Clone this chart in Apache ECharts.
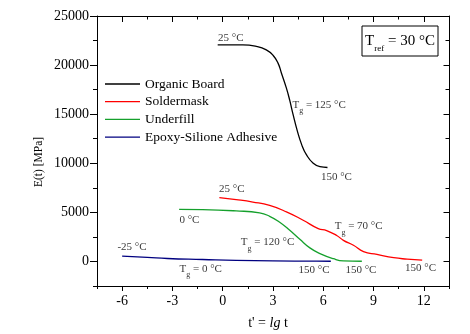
<!DOCTYPE html>
<html>
<head>
<meta charset="utf-8">
<script src="https://cdn.jsdelivr.net/npm/echarts@6/dist/echarts.min.js"></script>
<style>
  html, body { margin: 0; padding: 0; background: #fff; }
  #chart { width: 470px; height: 334px; }
</style>
</head>
<body>
<div id="chart"></div>
<script>
// Relaxation modulus master curves, E(t) vs reduced log time
const seriesNames = ['Organic Board', 'Soldermask', 'Underfill', 'Epoxy-Silione Adhesive'];
const seriesColors = ['#000000', '#ff0000', '#15a02c', '#000080'];

const organicBoard = [[-0.3, 22050], [1.2, 22050], [2.0, 21900], [2.6, 21550], [3.0, 21000], [3.3, 20200],
  [3.5, 19200], [3.8, 17650], [4.0, 16400], [4.2, 14950], [4.45, 13300], [4.7, 11950], [5.0, 10850],
  [5.4, 10000], [5.8, 9650], [6.25, 9570]];
const soldermask = [[-0.2, 6500], [0.8, 6300], [1.8, 6050], [2.8, 5700], [3.8, 5050], [4.8, 4200],
  [5.7, 3350], [6.2, 3150], [6.8, 2650], [7.2, 2150], [7.8, 1650], [8.4, 1000], [9.2, 720],
  [10.2, 380], [11.0, 240], [11.9, 130]];
const underfill = [[-2.6, 5300], [-1.2, 5280], [0.8, 5150], [2.2, 4950], [2.8, 4600], [3.4, 4000],
  [4.0, 3170], [4.6, 2250], [5.2, 1380], [5.8, 800], [6.6, 280], [7.2, 60], [8.3, 20]];
const epoxyAdhesive = [[-6.0, 550], [-4.5, 420], [-3.3, 300], [-1.2, 200], [0.8, 110], [3.0, 60],
  [5.6, 30], [6.45, 20]];

// Axis ticks
const xTicks = [-6, -3, 0, 3, 6, 9, 12];
const xMinorTicks = [-7.5, -4.5, -1.5, 1.5, 4.5, 7.5, 10.5, 13.5];
const yTicks = [0, 5000, 10000, 15000, 20000, 25000];
const yMinorTicks = [-2500, 2500, 7500, 12500, 17500, 22500];

// Temperature annotations placed in data coordinates (left edge, vertical centre)
const annoX = [-0.28, 4.16, 5.86, -0.22, -2.58, 1.08, 6.68, -6.28, -2.58, 4.52, 7.32, 10.88];
const annoY = [22750, 15950, 8620, 7330, 4190, 1970, 3580, 1460, -745, -920, -850, -690];
const annoText = ['25 °C', 'T_g = 125 °C', '150 °C', '25 °C', '0 °C', 'T_g = 120 °C', 'T_g = 70 °C',
  '-25 °C', 'T_g = 0 °C', '150 °C', '150 °C', '150 °C'];

const F = 'Liberation Serif';
const chart = echarts.init(document.getElementById('chart'), null, { renderer: 'canvas' });

function xAxisDef(position, ticks, len, inside, isMain, withLabels) {
  return {
    type: 'value', position: position, min: -7.5, max: 13.5,
    axisLine: { show: isMain, onZero: false, lineStyle: { color: '#000', width: 1 } },
    axisTick: { show: true, customValues: ticks, length: len, inside: inside, lineStyle: { color: '#000', width: 1 } },
    axisLabel: withLabels
      ? { show: true, customValues: xTicks, margin: 8, fontFamily: F, fontSize: 14, color: '#000', formatter: v => String(v) }
      : { show: false },
    splitLine: { show: false }
  };
}
function yAxisDef(position, ticks, len, inside, isMain, withLabels) {
  return {
    type: 'value', position: position, min: -2500, max: 25000,
    axisLine: { show: isMain, onZero: false, lineStyle: { color: '#000', width: 1 } },
    axisTick: { show: true, customValues: ticks, length: len, inside: inside, lineStyle: { color: '#000', width: 1 } },
    axisLabel: withLabels
      ? { show: true, customValues: yTicks, margin: 8, fontFamily: F, fontSize: 14, color: '#000', formatter: v => String(v) }
      : { show: false },
    splitLine: { show: false }
  };
}

const curves = [organicBoard, soldermask, underfill, epoxyAdhesive];
const lineSeries = curves.map((d, i) => ({
  name: seriesNames[i], type: 'line', data: d, xAxisIndex: 0, yAxisIndex: 0,
  symbol: 'none', smooth: 0.5,
  lineStyle: { color: seriesColors[i], width: 1.3 },
  itemStyle: { color: seriesColors[i] },
  silent: true, z: 3
}));

function richLabel(t) {
  const m = /^T_g(.*)$/.exec(t);
  return m ? '{t|T}{g|g}{t|' + m[1] + '}' : '{t|' + t + '}';
}

const annoSeries = {
  type: 'scatter', xAxisIndex: 0, yAxisIndex: 0, symbolSize: 0, silent: true, clip: false, z: 5,
  data: annoX.map((x, i) => ({ value: [x, annoY[i]], name: annoText[i] })),
  label: {
    show: true, position: [0, 0], align: 'left', verticalAlign: 'middle',
    formatter: p => richLabel(p.name),
    rich: {
      t: { fontFamily: F, fontSize: 11, color: '#000' },
      g: { fontFamily: F, fontSize: 8, color: '#000', padding: [13, 0, 0, 0] }
    }
  }
};

chart.setOption({
  animation: false,
  backgroundColor: '#fff',
  grid: { left: 97, right: 21, top: 16, bottom: 48, containLabel: false },
  xAxis: [
    xAxisDef('bottom', xTicks, 5, false, true, true),
    xAxisDef('bottom', xMinorTicks, 3, false, false, false),
    xAxisDef('top', xTicks, 6, true, true, false),
    xAxisDef('top', xMinorTicks, 3.5, true, false, false)
  ],
  yAxis: [
    yAxisDef('left', yTicks, 7, false, true, true),
    yAxisDef('left', yMinorTicks, 4, false, false, false),
    yAxisDef('right', yTicks, 5.5, true, true, false),
    yAxisDef('right', yMinorTicks, 3.5, true, false, false)
  ],
  legend: {
    data: seriesNames.map((n, i) => ({ name: n, icon: 'rect', itemStyle: { color: seriesColors[i] } })),
    orient: 'vertical', left: 105, top: 77,
    itemWidth: 35, itemHeight: 1.3, itemGap: 3.7, padding: 0,
    textStyle: { fontFamily: F, fontSize: 13.5, color: '#000', lineHeight: 14 },
    selectedMode: false
  },
  graphic: [
    {
      type: 'rect', shape: { x: 362, y: 26, width: 76, height: 30 },
      style: { fill: '#fff', stroke: '#000', lineWidth: 1 }, z: 10
    },
    {
      type: 'text', x: 400, y: 41, z: 11,
      style: {
        text: '{t|T}{s|ref}{t| = 30 °C}', align: 'center', verticalAlign: 'middle',
        rich: {
          t: { fontFamily: F, fontSize: 15, fill: '#000' },
          s: { fontFamily: F, fontSize: 9, fill: '#000', padding: [16, 0, 0, 0] }
        }
      }
    },
    {
      type: 'text', x: 39, y: 162, rotation: Math.PI / 2, z: 11,
      style: { text: 'E(t) [MPa]', fontFamily: F, fontSize: 11.5, fill: '#000', align: 'center', verticalAlign: 'middle' }
    },
    {
      type: 'text', x: 268, y: 323, z: 11,
      style: {
        text: "{a|t' = }{i|lg}{a| t}", align: 'center', verticalAlign: 'middle',
        rich: {
          a: { fontFamily: F, fontSize: 14, fill: '#000' },
          i: { fontFamily: F, fontSize: 14, fontStyle: 'italic', fill: '#000' }
        }
      }
    }
  ],
  series: lineSeries.concat([annoSeries])
});
</script>
</body>
</html>
